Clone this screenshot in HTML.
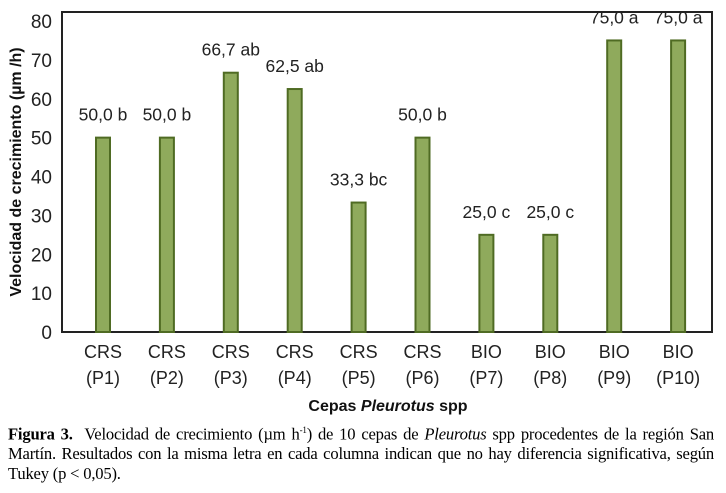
<!DOCTYPE html>
<html><head><meta charset="utf-8"><style>
body{margin:0;background:#fff;width:726px;height:493px;overflow:hidden}
svg{display:block}
.cap{position:absolute;left:8px;top:421px;width:706px;font:16.6px "Liberation Serif",serif;line-height:19.5px;text-align:justify;color:#000;letter-spacing:-0.2px}
</style></head><body>
<svg width="726" height="420">
<g id="g"></g>
</svg>
<div class="cap"><b>Figura 3.</b>&nbsp; Velocidad de crecimiento (µm h<sup style="font-size:9px">-1</sup>) de 10 cepas de <i>Pleurotus</i> spp procedentes de la región San Martín. Resultados con la misma letra en cada columna indican que no hay diferencia significativa, según Tukey (p &lt; 0,05).</div>
<script>
const cats1=["CRS","CRS","CRS","CRS","CRS","CRS","BIO","BIO","BIO","BIO"];
const cats2=["(P1)","(P2)","(P3)","(P4)","(P5)","(P6)","(P7)","(P8)","(P9)","(P10)"];
const values=[50,50,66.7,62.5,33.3,50,25,25,75,75];
const letters=["b","b","ab","ab","bc","b","c","c","a","a"];
const yTicks=[0,10,20,30,40,50,60,70,80];
const NS="http://www.w3.org/2000/svg";
const g=document.getElementById('g');
const y=v=>332-v*(311/80);
const x=i=>103+i*63.9;
function mk(t,a){const e=document.createElementNS(NS,t);for(const k in a)e.setAttribute(k,a[k]);g.appendChild(e);return e;}
let f=mk('rect',{x:62,y:12,width:650,height:320,fill:'none',stroke:'#222','stroke-width':2});


yTicks.forEach(t=>{const e=mk('text',{x:52,y:y(t)+7,'text-anchor':'end','font-family':'Liberation Sans, sans-serif','font-size':19,fill:'#222'});e.textContent=t;

});
values.forEach((v,i)=>{
const r=mk('rect',{x:x(i)-7,y:y(v),width:14,height:332-y(v),fill:'#8faa5c',stroke:'#4f6b23','stroke-width':2});


const l=mk('text',{x:x(i),y:y(v)-17,'text-anchor':'middle','font-family':'Liberation Sans, sans-serif','font-size':17.5,fill:'#222'});
l.textContent=v.toFixed(1).replace('.',',')+' '+letters[i];


const c1=mk('text',{x:x(i),y:358,'text-anchor':'middle','font-family':'Liberation Sans, sans-serif','font-size':18,fill:'#222'});c1.textContent=cats1[i];


const c2=mk('text',{x:x(i),y:384,'text-anchor':'middle','font-family':'Liberation Sans, sans-serif','font-size':18,fill:'#222'});c2.textContent=cats2[i];


});
const xt=mk('text',{x:388,y:411,'text-anchor':'middle','font-family':'Liberation Sans, sans-serif','font-size':16,'font-weight':'bold',fill:'#111'});
xt.innerHTML='Cepas <tspan font-style="italic">Pleurotus</tspan> spp';


const yt=mk('text',{x:0,y:0,transform:'translate(21,172) rotate(-90)','text-anchor':'middle','font-family':'Liberation Sans, sans-serif','font-size':16,'font-weight':'bold',fill:'#111'});
yt.textContent='Velocidad de crecimiento (µm /h)';


</script>
</body></html>
